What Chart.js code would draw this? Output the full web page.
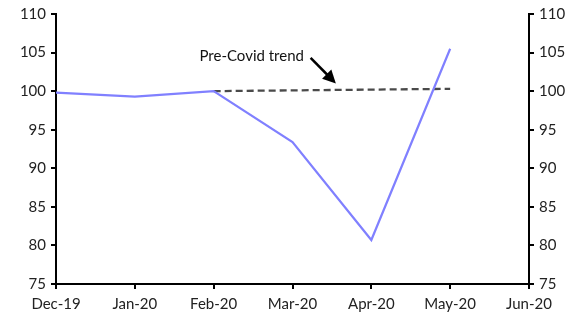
<!DOCTYPE html>
<html>
<head>
<meta charset="utf-8">
<script src="https://cdn.jsdelivr.net/npm/chart.js@4"></script>
<style>
  html, body { margin: 0; padding: 0; background: #fff; }
  #wrap { width: 579px; height: 316px; }
</style>
</head>
<body>
<div id="wrap"><canvas id="chart"></canvas></div>
<script>
const months = ["Dec-19", "Jan-20", "Feb-20", "Mar-20", "Apr-20", "May-20", "Jun-20"];
const actual = [99.8, 99.3, 100.0, 93.4, 80.7, 105.5, null];
const trend = [null, null, 100.0, 100.1, 100.2, 100.3, null];
const yTicks = [75, 80, 85, 90, 95, 100, 105, 110];
const trendLabel = "Pre-Covid trend";

const FONT = "Lato, sans-serif";

// text + arrow, placed in data units
const annotate = {
    id: "annotate",
    afterDatasetsDraw(chart) {
        const ctx = chart.ctx;
        const x = chart.scales.x, y = chart.scales.y;
        ctx.save();
        ctx.fillStyle = "#111";
        ctx.font = "15px " + FONT;
        ctx.textBaseline = "middle";
        ctx.fillText(trendLabel, x.getPixelForValue(1.82), y.getPixelForValue(104.6));
        const x0 = x.getPixelForValue(3.23), y0 = y.getPixelForValue(104.3);
        const x1 = x.getPixelForValue(3.55), y1 = y.getPixelForValue(101.0);
        ctx.strokeStyle = "#000";
        ctx.lineWidth = 2.5;
        const a = Math.atan2(y1 - y0, x1 - x0);
        ctx.beginPath();
        ctx.moveTo(x0, y0);
        ctx.lineTo(x1 - 8 * Math.cos(a), y1 - 8 * Math.sin(a));
        ctx.stroke();
        ctx.fillStyle = "#000";
        ctx.beginPath();
        ctx.moveTo(x1, y1);
        ctx.lineTo(x1 - 13 * Math.cos(a) + 6.5 * Math.sin(a), y1 - 13 * Math.sin(a) - 6.5 * Math.cos(a));
        ctx.lineTo(x1 - 13 * Math.cos(a) - 6.5 * Math.sin(a), y1 - 13 * Math.sin(a) + 6.5 * Math.cos(a));
        ctx.closePath();
        ctx.fill();
        ctx.restore();
    }
};

function yAxis(pos, width) {
    return {
        position: pos,
        min: 75, max: 110,
        afterBuildTicks(axis) { axis.ticks = yTicks.map(v => ({ value: v })); },
        afterFit(axis) { axis.width = width; },
        border: { display: true, color: "#000", width: 2 },
        grid: { drawOnChartArea: false, drawTicks: true, tickLength: 5, color: "#000", lineWidth: 2 },
        ticks: { color: "#222", font: { family: FONT, size: 15 }, padding: 5 }
    };
}

new Chart(document.getElementById("chart"), {
    type: "line",
    data: {
        labels: months,
        datasets: [
            { data: actual, borderColor: "#8080ff", borderWidth: 2.2, pointRadius: 0, tension: 0 },
            { data: trend, borderColor: "#4a4a4a", borderWidth: 2.3, borderDash: [7, 4], pointRadius: 0, tension: 0 }
        ]
    },
    options: {
        responsive: true,
        maintainAspectRatio: false,
        animation: false,
        layout: { padding: { top: 11, left: 0, right: 0, bottom: 0 } },
        plugins: { legend: { display: false }, tooltip: { enabled: false } },
        scales: {
            x: {
                offset: false,
                afterFit(axis) { axis.height = 32; },
                border: { display: true, color: "#000", width: 2 },
                grid: { drawOnChartArea: false, drawTicks: true, tickLength: 5, color: "#000", lineWidth: 2 },
                ticks: { color: "#222", font: { family: FONT, size: 15 }, padding: 6, maxRotation: 0, autoSkip: false }
            },
            y: yAxis("left", 56),
            y2: yAxis("right", 50)
        }
    },
    plugins: [annotate]
});
</script>
</body>
</html>
